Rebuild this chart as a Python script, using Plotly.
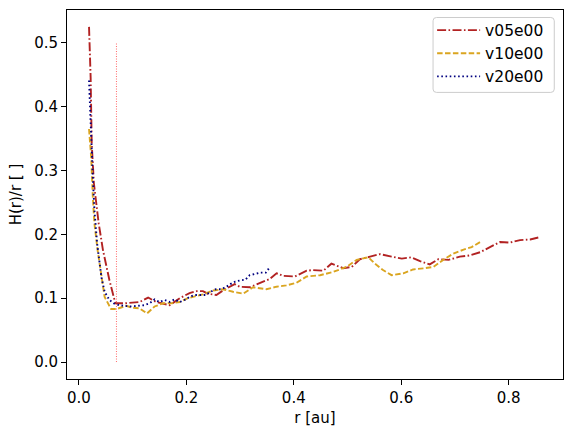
import plotly.graph_objects as go

r05 = [0.019, 0.022, 0.024, 0.028, 0.037, 0.045, 0.057, 0.068, 0.085, 0.100, 0.113, 0.129, 0.144, 0.169, 0.188, 0.206, 0.219, 0.231, 0.240, 0.256, 0.268, 0.290, 0.299, 0.318, 0.340, 0.355, 0.368, 0.380, 0.402, 0.424, 0.436, 0.455, 0.470, 0.492, 0.508, 0.523, 0.542, 0.560, 0.582, 0.601, 0.619, 0.635, 0.653, 0.669, 0.688, 0.709, 0.728, 0.747, 0.765, 0.784, 0.802, 0.821, 0.840, 0.855]
h05 = [0.525, 0.446, 0.342, 0.280, 0.217, 0.175, 0.128, 0.092, 0.092, 0.093, 0.094, 0.101, 0.094, 0.089, 0.100, 0.108, 0.111, 0.111, 0.107, 0.105, 0.112, 0.122, 0.118, 0.117, 0.124, 0.130, 0.139, 0.135, 0.134, 0.143, 0.144, 0.143, 0.154, 0.147, 0.149, 0.161, 0.165, 0.169, 0.165, 0.162, 0.164, 0.158, 0.153, 0.161, 0.160, 0.165, 0.167, 0.172, 0.180, 0.188, 0.187, 0.191, 0.192, 0.195]

r10 = [0.019, 0.023, 0.026, 0.029, 0.035, 0.042, 0.048, 0.060, 0.070, 0.088, 0.100, 0.113, 0.127, 0.141, 0.157, 0.172, 0.188, 0.203, 0.219, 0.231, 0.250, 0.268, 0.287, 0.306, 0.324, 0.349, 0.368, 0.386, 0.405, 0.424, 0.449, 0.473, 0.498, 0.517, 0.539, 0.551, 0.566, 0.582, 0.604, 0.622, 0.644, 0.660, 0.678, 0.697, 0.716, 0.731, 0.747]
h10 = [0.365, 0.321, 0.259, 0.217, 0.175, 0.133, 0.102, 0.083, 0.083, 0.088, 0.085, 0.084, 0.076, 0.087, 0.092, 0.092, 0.094, 0.100, 0.104, 0.106, 0.112, 0.114, 0.110, 0.107, 0.117, 0.114, 0.118, 0.120, 0.124, 0.134, 0.136, 0.141, 0.149, 0.160, 0.164, 0.154, 0.144, 0.136, 0.139, 0.145, 0.147, 0.149, 0.160, 0.170, 0.176, 0.180, 0.188]

r20 = [0.019, 0.021, 0.023, 0.026, 0.029, 0.034, 0.042, 0.048, 0.057, 0.065, 0.075, 0.083, 0.095, 0.110, 0.122, 0.132, 0.141, 0.150, 0.160, 0.169, 0.178, 0.188, 0.199, 0.206, 0.216, 0.226, 0.236, 0.245, 0.255, 0.264, 0.273, 0.282, 0.291, 0.301, 0.310, 0.318, 0.328, 0.338, 0.348, 0.354]
h20 = [0.441, 0.394, 0.342, 0.290, 0.238, 0.186, 0.133, 0.110, 0.097, 0.092, 0.089, 0.088, 0.087, 0.088, 0.089, 0.092, 0.098, 0.094, 0.097, 0.094, 0.098, 0.094, 0.098, 0.102, 0.105, 0.105, 0.105, 0.110, 0.114, 0.114, 0.117, 0.122, 0.126, 0.128, 0.129, 0.136, 0.138, 0.140, 0.140, 0.147]

vline_r = [0.07, 0.07]
vline_h = [0.0, 0.5]

series_names = ["v05e00", "v10e00", "v20e00"]
x_ticks = [0.0, 0.2, 0.4, 0.6, 0.8]
y_ticks = [0.0, 0.1, 0.2, 0.3, 0.4, 0.5]

FONT = "DejaVu Sans"

fig = go.Figure()
fig.add_trace(go.Scatter(x=vline_r, y=vline_h, mode="lines", showlegend=False,
                         line=dict(color="red", width=0.6, dash="1px,1.5px"), hoverinfo="skip"))
fig.add_trace(go.Scatter(x=r05, y=h05, mode="lines", name=series_names[0], legendgroup="a",
                         line=dict(color="#b22222", width=1.9, dash="9px,2.4px,1.6px,2.4px")))
fig.add_trace(go.Scatter(x=r10, y=h10, mode="lines", name=series_names[1], legendgroup="b",
                         line=dict(color="#daa520", width=1.9, dash="5.5px,2.4px")))
fig.add_trace(go.Scatter(x=r20, y=h20, mode="lines", name=series_names[2], legendgroup="c",
                         line=dict(color="#000080", width=1.9, dash="1.6px,2.6px")))

axis_common = dict(showline=True, linecolor="black", linewidth=1, mirror=True,
                   ticks="outside", ticklen=5, tickwidth=1, tickcolor="black",
                   showgrid=False, zeroline=False, tickformat=".1f",
                   tickfont=dict(family=FONT, size=15, color="black"))

# legend frame (rounded box) in paper coordinates
lx0, lx1, ly0, ly1 = 0.738, 0.9824, 0.7767, 0.9797
rx, ry = 0.007, 0.009
frame_path = (f"M{lx0+rx},{ly0} L{lx1-rx},{ly0} Q{lx1},{ly0} {lx1},{ly0+ry} "
              f"L{lx1},{ly1-ry} Q{lx1},{ly1} {lx1-rx},{ly1} L{lx0+rx},{ly1} "
              f"Q{lx0},{ly1} {lx0},{ly1-ry} L{lx0},{ly0+ry} Q{lx0},{ly0} {lx0+rx},{ly0} Z")

fig.update_layout(
    width=572, height=434,
    margin=dict(l=67, r=9, t=10, b=55),
    paper_bgcolor="white", plot_bgcolor="white",
    font=dict(family=FONT, size=15, color="black"),
    xaxis=dict(range=[-0.022, 0.901], tickvals=x_ticks,
               title=dict(text="r [au]", font=dict(family=FONT, size=15), standoff=6),
               **axis_common),
    yaxis=dict(range=[-0.0266, 0.5514], tickvals=y_ticks,
               title=dict(text="H(r)/r [ ]", font=dict(family=FONT, size=15), standoff=8),
               **axis_common),
    legend=dict(x=0.972, y=0.9905, xanchor="right", yanchor="top",
                borderwidth=0, bgcolor="rgba(0,0,0,0)",
                font=dict(family=FONT, size=15.5), itemwidth=43, tracegroupgap=5,
                traceorder="normal"),
    shapes=[dict(type="path", xref="paper", yref="paper", path=frame_path,
                 line=dict(color="#cccccc", width=1), fillcolor="rgba(255,255,255,0.8)",
                 layer="above")],
    showlegend=True,
)

fig.write_html("out.html")
